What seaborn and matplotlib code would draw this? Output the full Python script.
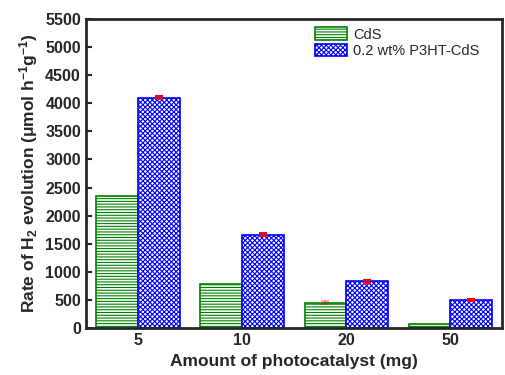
import pandas as pd
import numpy as np
import seaborn as sns
import matplotlib
matplotlib.use("Agg")
import matplotlib.pyplot as plt

# --------------------------------------------------
# DATA
# --------------------------------------------------
amounts = ["5", "10", "20", "50"]
cds_rate = [2350, 790, 450, 80]
p3ht_rate = [4100, 1660, 830, 500]
cds_err = [0, 0, 25, 0]
p3ht_err = [25, 25, 25, 25]
samples = ["CdS", "0.2 wt% P3HT-CdS"]

df = pd.DataFrame({
    "amount": amounts * 2,
    "rate": cds_rate + p3ht_rate,
    "sample": [samples[0]] * 4 + [samples[1]] * 4,
})

# --------------------------------------------------
# STYLE
# --------------------------------------------------
sns.set_style("ticks")
plt.rcParams["font.family"] = ["Liberation Sans", "DejaVu Sans"]
plt.rcParams["font.weight"] = "bold"
plt.rcParams["mathtext.default"] = "regular"
plt.rcParams["hatch.linewidth"] = 0.8

fig, ax = plt.subplots(figsize=(5.05, 3.75), dpi=100)

sns.barplot(data=df, x="amount", y="rate", hue="sample", order=amounts,
            hue_order=samples, width=0.8, ax=ax, errorbar=None,
            palette=["white", "white"], legend=False)

# hatches / edges per series
styles = {samples[0]: ("green", "------"), samples[1]: ("blue", "xxxxxxx")}
for container, name in zip(ax.containers, samples):
    col, hatch = styles[name]
    for bar in container:
        bar.set_edgecolor(col)
        bar.set_hatch(hatch)
        bar.set_linewidth(1.2)

# error bars on top of the bars
for container, errs, alpha in zip(ax.containers, [cds_err, p3ht_err], [0.35, 1.0]):
    pts = [(b.get_x() + b.get_width() / 2, b.get_height(), e)
           for b, e in zip(container, errs) if e > 0]
    xs, ys, es = zip(*pts)
    ax.errorbar(xs, ys, yerr=es, fmt="none", ecolor="red", elinewidth=1.5,
                capsize=3, capthick=1.5, alpha=alpha, zorder=5)

ax.set_xlim(-0.5, 3.5)
ax.set_ylim(0, 5500)
ax.set_yticks(np.arange(0, 5501, 500))

ax.set_xlabel("Amount of photocatalyst (mg)", fontsize=12.5, fontweight="bold", labelpad=4)
ax.set_ylabel("Rate of H$_2$ evolution ($\\mu$mol h$^{-1}$g$^{-1}$)",
              fontsize=12.5, fontweight="bold", labelpad=4)

ax.tick_params(direction="in", width=1.5, length=4, labelsize=11.5)
for lab in ax.get_xticklabels() + ax.get_yticklabels():
    lab.set_fontweight("bold")
for s in ax.spines.values():
    s.set_visible(True)
    s.set_linewidth(2)

handles = [c[0] for c in ax.containers]
leg = ax.legend(handles, samples, loc="upper right", bbox_to_anchor=(0.965, 1.0),
                frameon=False, fontsize=10.5,
                handlelength=2.2, handleheight=0.9, borderaxespad=0.2,
                labelspacing=0.15, handletextpad=0.4)
for t in leg.get_texts():
    t.set_fontweight("normal")

plt.subplots_adjust(left=0.17, right=0.995, top=0.95, bottom=0.125)
plt.savefig("out.png", dpi=100)
